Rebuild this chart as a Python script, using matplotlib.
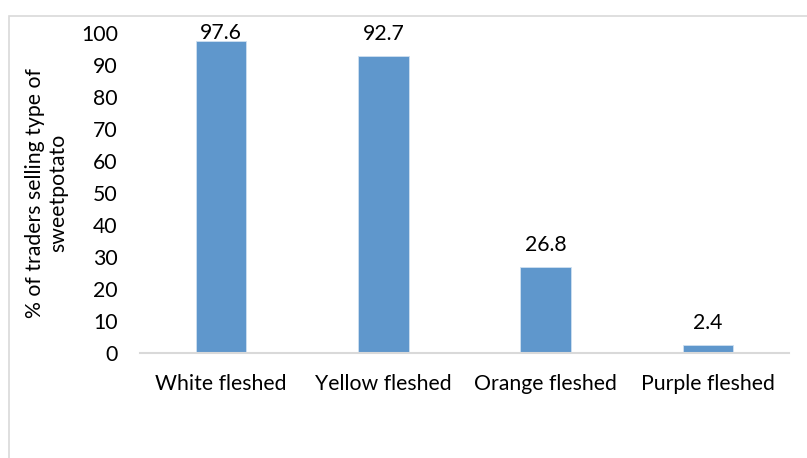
import matplotlib.pyplot as plt
from matplotlib.patches import Rectangle

categories = ["White fleshed", "Yellow fleshed", "Orange fleshed", "Purple fleshed"]
values = [97.6, 92.7, 26.8, 2.4]
yticks = [0, 10, 20, 30, 40, 50, 60, 70, 80, 90, 100]

plt.rcParams["font.family"] = ["Lato", "DejaVu Sans"]
fs = 15.3

fig = plt.figure(figsize=(8.07, 4.58), dpi=100)
ax = fig.add_axes([0.1735, 0.2299, 0.8042, 0.6981])

# chart frame, only top and left edges fall inside the image
fig.patches.append(Rectangle((8.5 / 807, -0.1), 1.2, (458 - 15.5) / 458 + 0.1,
                             transform=fig.transFigure, fill=False,
                             edgecolor="#d9d9d9", linewidth=1.2))

x = range(len(categories))
ax.bar(x, values, width=0.31, color="#5f97cc", edgecolor="#cfe0f0", linewidth=0.6)

for xi, v in zip(x, values):
    ax.text(xi, min(v + 7, 100), f"{v:.1f}", ha="center", va="center",
            fontsize=fs, color="black")

ax.set_xlim(-0.5, len(categories) - 0.5)
ax.set_ylim(0, 100)
ax.set_yticks(yticks)
ax.set_xticks(list(x))
ax.set_xticklabels(categories)
ax.tick_params(axis="both", length=0, labelsize=fs, colors="black")
ax.tick_params(axis="y", pad=16)
ax.tick_params(axis="x", pad=15)

for s in ["top", "right", "left"]:
    ax.spines[s].set_visible(False)
ax.spines["bottom"].set_color("#d9d9d9")
ax.spines["bottom"].set_linewidth(1.5)

ax.set_ylabel("% of traders selling type of\nsweetpotato", fontsize=fs,
              multialignment="center", linespacing=1.25)
ax.yaxis.set_label_coords(-0.11, 0.5)

fig.savefig("out.png", dpi=100)
